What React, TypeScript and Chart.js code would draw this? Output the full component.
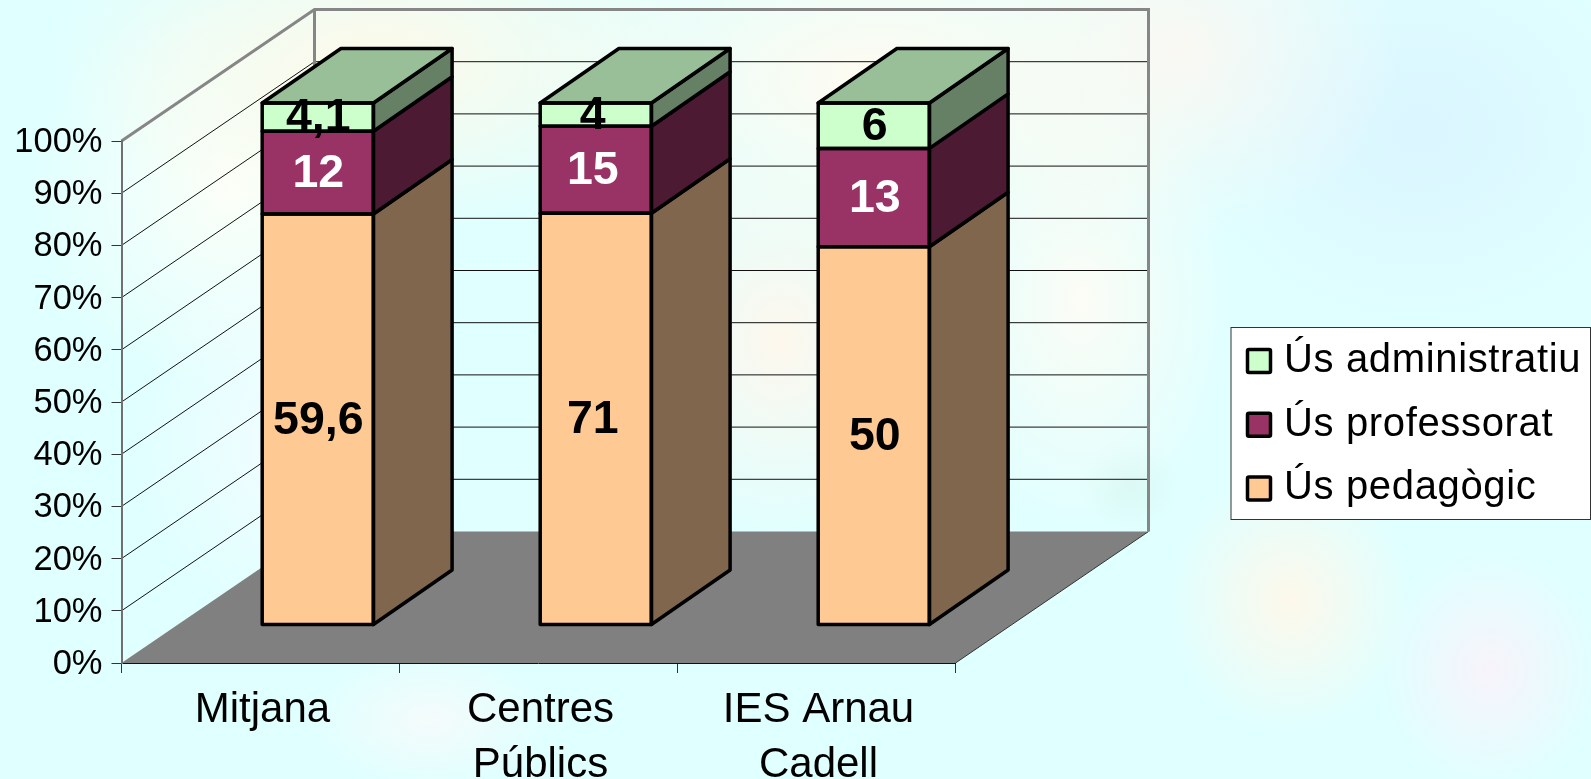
import React, { useEffect, useRef } from "react";
import { Chart, registerables } from "chart.js";

Chart.register(...registerables);

const categories = ["Mitjana", ["Centres", "Públics"], ["IES Arnau", "Cadell"]];
const usPedagogic = [59.6, 71, 50];
const usProfessorat = [12, 15, 13];
const usAdministratiu = [4.1, 4, 6];
const percentTicks = [0, 10, 20, 30, 40, 50, 60, 70, 80, 90, 100];

const WALL_DX = 193;
const WALL_DY = 131.5;
const BAR_SHIFT_X = 57.3;
const BAR_SHIFT_Y = 38;
const BAR_DEPTH_X = 78.7;
const BAR_DEPTH_Y = 54.5;
const LABEL_NUDGE_X = [0.5, -3, 1];
const FONT = '"Liberation Sans", Arial, sans-serif';

const toPercent = (values: number[]) =>
  values.map((v, i) => (v / (usPedagogic[i] + usProfessorat[i] + usAdministratiu[i])) * 100);

const seriesStyles = [
  { label: "Ús pedagògic", raw: usPedagogic, fill: "#FFC993", side: "#7F664C", top: "#BF9973", text: "#000000" },
  { label: "Ús professorat", raw: usProfessorat, fill: "#993366", side: "#4C1A33", top: "#732650", text: "#FFFFFF" },
  { label: "Ús administratiu", raw: usAdministratiu, fill: "#CCFFCC", side: "#668066", top: "#99BF99", text: "#000000" },
];

const poly = (ctx: CanvasRenderingContext2D, pts: number[][]) => {
  ctx.beginPath();
  pts.forEach(([x, y], i) => (i ? ctx.lineTo(x, y) : ctx.moveTo(x, y)));
  ctx.closePath();
};

const chart3d = {
  id: "chart3d",
  beforeDraw(chart: any) {
    const { ctx, chartArea: a, scales } = chart;
    const y = scales.y;
    ctx.save();
    // floor
    ctx.fillStyle = "#808080";
    poly(ctx, [
      [a.left, a.bottom],
      [a.right, a.bottom],
      [a.right + WALL_DX, a.bottom - WALL_DY],
      [a.left + WALL_DX, a.bottom - WALL_DY],
    ]);
    ctx.fill();
    ctx.strokeStyle = "#333333";
    ctx.lineWidth = 1;
    ctx.beginPath();
    ctx.moveTo(a.right, a.bottom);
    ctx.lineTo(a.right + WALL_DX, a.bottom - WALL_DY);
    ctx.stroke();
    // gridlines on side wall and back wall
    ctx.strokeStyle = "#111111";
    ctx.lineWidth = 1;
    percentTicks.slice(1, -1).forEach((t) => {
      const py = y.getPixelForValue(t);
      ctx.beginPath();
      ctx.moveTo(a.left, py);
      ctx.lineTo(a.left + WALL_DX, py - WALL_DY);
      ctx.lineTo(a.right + WALL_DX, py - WALL_DY);
      ctx.stroke();
    });
    // wall frame
    ctx.strokeStyle = "#868686";
    ctx.lineWidth = 3;
    ctx.lineJoin = "miter";
    ctx.beginPath();
    ctx.moveTo(a.left, a.top);
    ctx.lineTo(a.left + WALL_DX, a.top - WALL_DY);
    ctx.lineTo(a.right + WALL_DX, a.top - WALL_DY);
    ctx.lineTo(a.right + WALL_DX, a.bottom - WALL_DY);
    ctx.moveTo(a.left + WALL_DX, a.top - WALL_DY);
    ctx.lineTo(a.left + WALL_DX, a.bottom - WALL_DY);
    ctx.stroke();
    ctx.restore();
  },
  beforeDatasetsDraw(chart: any) {
    chart.ctx.save();
    chart.ctx.translate(BAR_SHIFT_X, -BAR_SHIFT_Y);
  },
  afterDatasetsDraw(chart: any) {
    const { ctx } = chart;
    const dx = BAR_DEPTH_X;
    const dy = BAR_DEPTH_Y;
    ctx.strokeStyle = "#000000";
    ctx.lineWidth = 3.5;
    ctx.lineJoin = "round";
    seriesStyles.forEach((s, si) => {
      chart.getDatasetMeta(si).data.forEach((el: any) => {
        const { x, y, base, width } = el.getProps(["x", "y", "base", "width"], true);
        const l = x - width / 2;
        const r = x + width / 2;
        ctx.fillStyle = s.side;
        poly(ctx, [[r, y], [r + dx, y - dy], [r + dx, base - dy], [r, base]]);
        ctx.fill();
        ctx.stroke();
        if (si === seriesStyles.length - 1) {
          ctx.fillStyle = s.top;
          poly(ctx, [[l, y], [r, y], [r + dx, y - dy], [l + dx, y - dy]]);
          ctx.fill();
          ctx.stroke();
        }
        ctx.strokeRect(l, y, width, base - y);
      });
    });
    ctx.textAlign = "center";
    ctx.textBaseline = "middle";
    ctx.font = `bold 46.5px ${FONT}`;
    seriesStyles.forEach((s, si) => {
      chart.getDatasetMeta(si).data.forEach((el: any, i: number) => {
        const { x, y, base } = el.getProps(["x", "y", "base"], true);
        ctx.fillStyle = s.text;
        ctx.fillText(String(s.raw[i]).replace(".", ","), x + LABEL_NUDGE_X[i], (y + base) / 2 + 1.5);
      });
    });
    ctx.restore();

    // legend box
    ctx.save();
    ctx.fillStyle = "#FFFFFF";
    ctx.strokeStyle = "#333333";
    ctx.lineWidth = 1;
    ctx.fillRect(1231, 327.5, 360, 192);
    ctx.strokeRect(1231, 327.5, 359.5, 192);
    ctx.font = `40px ${FONT}`;
    (ctx as any).letterSpacing = "0.65px";
    ctx.textAlign = "left";
    ctx.textBaseline = "alphabetic";
    [...seriesStyles].reverse().forEach((s, i) => {
      const cy = 361 + i * 63.7;
      ctx.fillStyle = s.fill;
      ctx.strokeStyle = "#000000";
      ctx.lineWidth = 3.5;
      ctx.beginPath();
      ctx.roundRect(1247.5, cy - 11.5, 23, 23, 1.5);
      ctx.fill();
      ctx.stroke();
      ctx.fillStyle = "#000000";
      ctx.fillText(s.label, 1284, cy + 11);
    });
    ctx.restore();
  },
};

const pageBackground = [
  "radial-gradient(ellipse 330px 170px at 380px 60px, rgba(255,249,232,.95), rgba(255,249,232,0))",
  "radial-gradient(ellipse 200px 200px at 230px 190px, rgba(255,255,248,.9), rgba(255,255,248,0))",
  "radial-gradient(ellipse 360px 190px at 880px 80px, rgba(255,251,240,1), rgba(255,251,240,0))",
  "radial-gradient(ellipse 150px 200px at 780px 340px, rgba(255,247,236,.95), rgba(255,247,236,0))",
  "radial-gradient(ellipse 220px 190px at 1180px 50px, rgba(255,246,240,.8), rgba(255,246,240,0))",
  "radial-gradient(ellipse 150px 230px at 1080px 300px, rgba(255,252,244,.9), rgba(255,252,244,0))",
  "radial-gradient(ellipse 170px 190px at 300px 440px, rgba(245,252,255,.9), rgba(245,252,255,0))",
  "radial-gradient(ellipse 120px 70px at 430px 720px, rgba(250,250,250,.8), rgba(250,250,250,0))",
  "radial-gradient(ellipse 120px 130px at 1290px 600px, rgba(255,248,234,.95), rgba(255,248,234,0))",
  "radial-gradient(ellipse 110px 120px at 1490px 670px, rgba(250,242,250,.9), rgba(250,242,250,0))",
  "radial-gradient(ellipse 240px 200px at 1420px 130px, rgba(218,244,255,.9), rgba(218,244,255,0))",
  "radial-gradient(ellipse 50px 45px at 1130px 485px, rgba(205,240,232,.45), rgba(205,240,232,0))",
  "linear-gradient(#e0ffff, #e0ffff)",
].join(",");

export default function App() {
  const ref = useRef<HTMLCanvasElement>(null);
  useEffect(() => {
    const chart = new Chart(ref.current as HTMLCanvasElement, {
      type: "bar",
      data: {
        labels: categories as any,
        datasets: seriesStyles.map((s) => ({
          label: s.label,
          data: toPercent(s.raw),
          backgroundColor: s.fill,
          borderWidth: 0,
          barPercentage: 0.4,
          categoryPercentage: 1,
          clip: false as any,
        })),
      },
      options: {
        responsive: false,
        animation: false,
        layout: { padding: { top: 141, right: 635.5, left: 0, bottom: 0 } },
        plugins: { legend: { display: false }, tooltip: { enabled: false }, title: { display: false } },
        scales: {
          x: {
            stacked: true,
            afterFit: (s: any) => {
              s.height = 116;
            },
            grid: { drawOnChartArea: false, drawTicks: true, tickLength: 10, color: "#333333", lineWidth: 1 },
            border: { color: "#111111", width: 1 },
            ticks: { maxRotation: 0, minRotation: 0, autoSkip: false, padding: 10, labelOffset: 2, color: "#000000", font: { family: FONT, size: 42, lineHeight: 1.31 } },
          },
          y: {
            stacked: true,
            min: 0,
            max: 100,
            afterFit: (s: any) => {
              s.width = 121.5;
            },
            afterBuildTicks: (s: any) => {
              s.ticks = percentTicks.map((value) => ({ value }));
            },
            grid: { drawOnChartArea: false, drawTicks: true, tickLength: 10, color: "#333333", lineWidth: 1 },
            border: { color: "#707070", width: 2 },
            ticks: { padding: 9, labelOffset: 1.5, color: "#000000", font: { family: FONT, size: 34.5 }, callback: (v: any) => `${v}%` },
          },
        },
      },
      plugins: [chart3d],
    } as any);
    return () => chart.destroy();
  }, []);
  return (
    <div style={{ position: "fixed", inset: 0, background: pageBackground, overflow: "hidden" }}>
      <canvas ref={ref} width={1591} height={779} style={{ display: "block" }} />
    </div>
  );
}
